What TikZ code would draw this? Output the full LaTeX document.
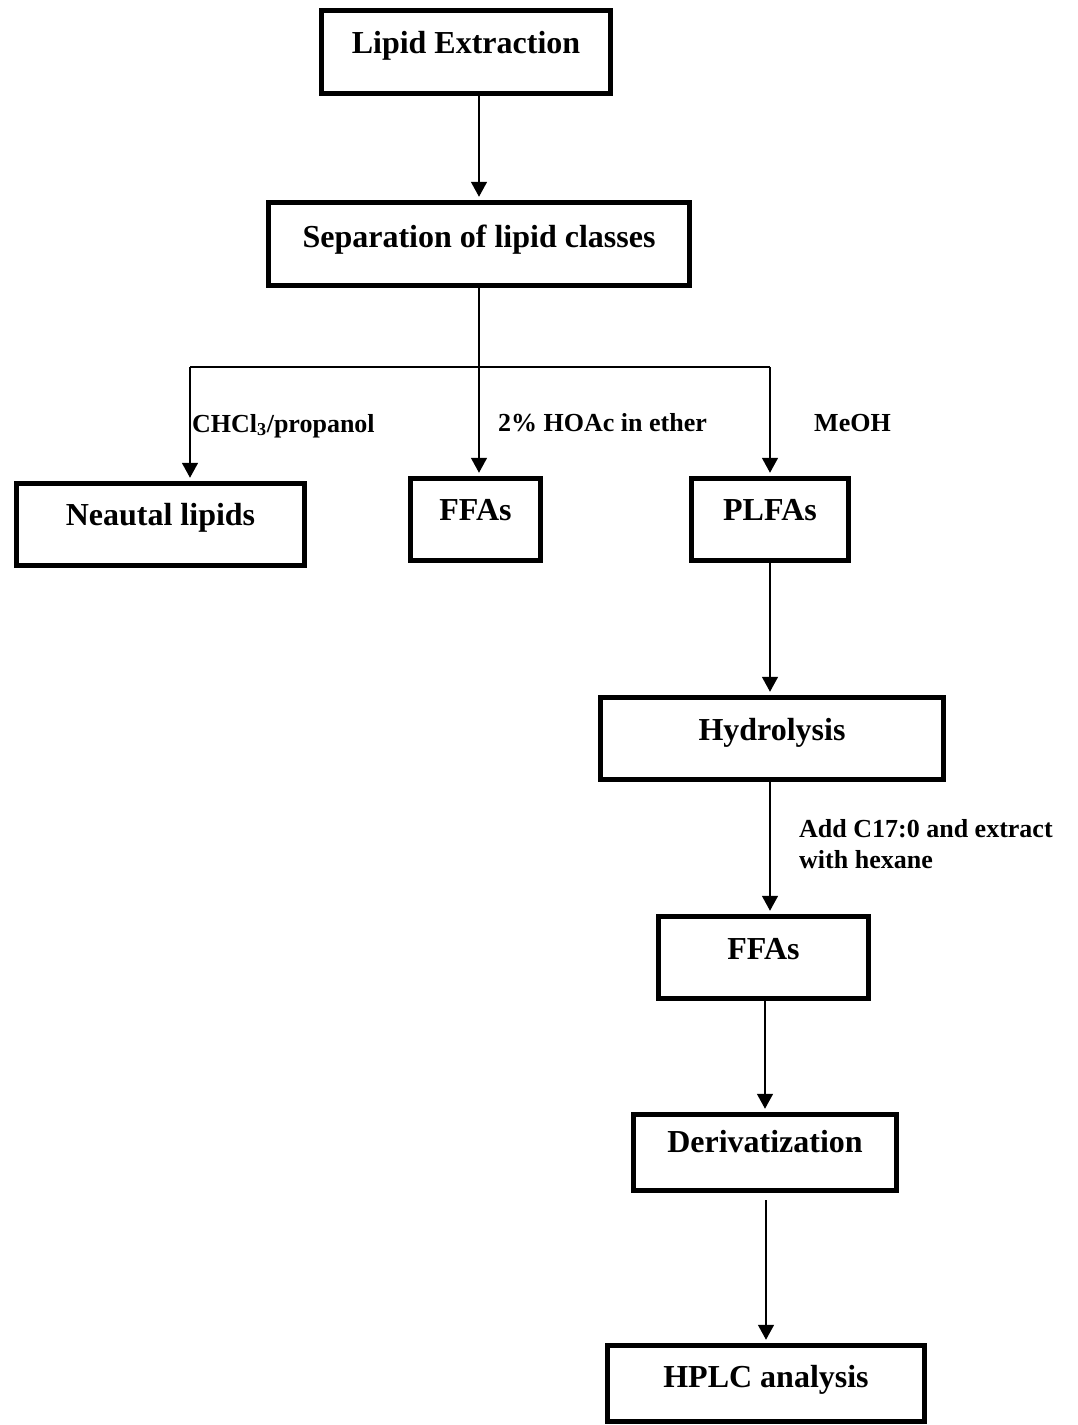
\documentclass[tikz,border=0pt]{standalone}
\usepackage{fontspec}
\setmainfont{Liberation Serif}
\usetikzlibrary{arrows.meta, positioning}

\begin{document}
\begin{tikzpicture}[x=1pt, y=-1pt, >={Triangle[length=15pt, width=16pt]},
    box/.style={draw, line width=5.5pt, inner sep=0pt, anchor=base,
                font=\bfseries\fontsize{32}{38}\selectfont},
    lbl/.style={inner sep=0pt, anchor=base west, align=left,
                font=\bfseries\fontsize{26}{31}\selectfont},
    flow/.style={->, line width=1.6pt, shorten >=3pt}]
  \useasboundingbox (0,0) rectangle (1077,1425);

  % The boxes (placed at their text baseline).
  \node[box, minimum width=289pt, text height=42.5pt, text depth=40.5pt] (lipid) at (466,53) {Lipid Extraction};
  \node[box, minimum width=421pt, text height=44.5pt, text depth=38.5pt] (sep) at (479,247) {Separation of lipid classes};
  \node[box, minimum width=288pt, text height=41.5pt, text depth=40.5pt] (neut) at (160.5,525) {Neautal lipids};
  \node[box, minimum width=130pt, text height=41.5pt, text depth=40.5pt] (ffa) at (475.5,520) {FFAs};
  \node[box, minimum width=157pt, text height=41.5pt, text depth=40.5pt] (plfa) at (770,520) {PLFAs};
  \node[box, minimum width=343pt, text height=42.5pt, text depth=39.5pt] (hydro) at (772,740) {Hydrolysis};
  \node[box, minimum width=210pt, text height=42.5pt, text depth=39.5pt] (ffatwo) at (763.5,959) {FFAs};
  \node[box, minimum width=263pt, text height=37.5pt, text depth=38.5pt] (deriv) at (765,1152) {Derivatization};
  \node[box, minimum width=317pt, text height=41.5pt, text depth=34.5pt] (hplc) at (766,1387) {HPLC analysis};

  % Main stem and the three-way split.
  \draw[flow] (lipid.south -| sep.north) -- (sep.north);
  \draw[flow] (sep.south) -- (sep.south |- ffa.north);
  \coordinate (barL) at (190,367);
  \coordinate (barR) at (770,367);
  \draw[line width=1.6pt] (barL) -- (barR);
  \draw[flow] (barL) -- (barL |- neut.north);
  \draw[flow] (barR) -- (plfa.north);

  % Solvent labels.
  \node[lbl] (chcl) at (192,432) {CHCl\textsubscript{3}/propanol};
  \node[lbl] (hoac) at (498,431) {2\% HOAc in ether};
  \node[lbl] (meoh) at (814,431) {MeOH};

  % PLFA branch down to HPLC.
  \draw[flow] (plfa.south) -- (hydro.north -| plfa.south);
  \draw[flow] (hydro.south -| plfa.south) -- (ffatwo.north -| plfa.south);
  \node[lbl] (addc) at (799,868) {Add C17:0 and extract\\with hexane};
  \draw[flow] (ffatwo.south -| deriv.north) -- (deriv.north);
  \draw[flow, shorten <=7pt] (deriv.south -| hplc.north) -- (hplc.north);
\end{tikzpicture}
\end{document}
